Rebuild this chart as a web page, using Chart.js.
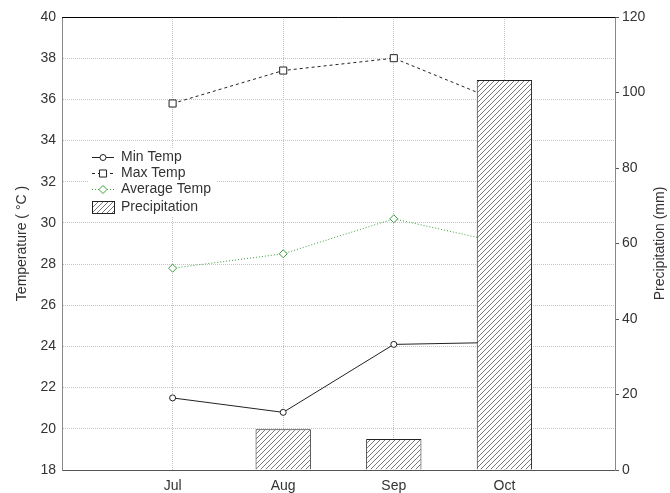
<!DOCTYPE html>
<html>
<head>
<meta charset="utf-8">
<script src="https://cdn.jsdelivr.net/npm/chart.js@4"></script>
<style>
  html, body { margin: 0; padding: 0; background: #fff; }
  #wrap { width: 670px; height: 493px; }
</style>
</head>
<body>
<div id="wrap"><canvas id="c" width="670" height="493"></canvas></div>
<script>
// Monthly climate data (blank slots pad the axis on both sides)
const months = ['', 'Jul', 'Aug', 'Sep', 'Oct', ''];
const minTemp = [null, 21.5, 20.8, 24.1, 24.2, null];
const maxTemp = [null, 35.8, 37.4, 38.0, 35.8, null];
const avgTemp = [null, 27.8, 28.5, 30.2, 29.0, null];
const precipitation = [null, 0, 10.8, 8.2, 103.3, null];

const seriesNames = ['Min Temp', 'Max Temp', 'Average Temp', 'Precipitation'];

const FONT = 'Arial, "Liberation Sans", sans-serif';
const TEXT = '#333';
const GREEN = '#3c9c3c';
const GRID = '#c4c4c4';

const canvas = document.getElementById('c');
const mainCtx = canvas.getContext('2d');

// white tile with "///" hatching for the precipitation bars
function makeHatch() {
  const t = document.createElement('canvas');
  t.width = 5; t.height = 5;
  const g = t.getContext('2d');
  g.fillStyle = '#fff';
  g.fillRect(0, 0, 5, 5);
  g.strokeStyle = '#555';
  g.lineWidth = 0.8;
  g.beginPath();
  g.moveTo(0, 5); g.lineTo(5, 0);
  g.moveTo(-1, 1); g.lineTo(1, -1);
  g.moveTo(4, 6); g.lineTo(6, 4);
  g.stroke();
  return mainCtx.createPattern(t, 'repeat');
}
const hatch = makeHatch();

// black frame line along the top of the plot and the right-hand title
const framePlugin = {
  id: 'frame',
  afterDraw(chart) {
    const { ctx, chartArea } = chart;
    ctx.save();
    ctx.strokeStyle = '#000';
    ctx.lineWidth = 1;
    ctx.beginPath();
    ctx.moveTo(chartArea.left, chartArea.top + 0.5);
    ctx.lineTo(chartArea.right + 0.5, chartArea.top + 0.5);
    ctx.stroke();

    ctx.fillStyle = TEXT;
    ctx.font = '14px ' + FONT;
    ctx.textAlign = 'center';
    ctx.textBaseline = 'middle';
    ctx.translate(660, (chartArea.top + chartArea.bottom) / 2);
    ctx.rotate(-Math.PI / 2);
    ctx.fillText('Precipitation (mm)', 0, 0);
    ctx.restore();
  }
};

// legend block inside the plot, line + marker samples
const legendPlugin = {
  id: 'innerLegend',
  afterDraw(chart) {
    const ctx = chart.ctx;
    const ds = chart.data.datasets;
    const x0 = 92, x1 = 114, xm = 103, xt = 121;
    const rows = [157, 173, 189, 207];
    ctx.save();
    ctx.fillStyle = '#fff';
    ctx.fillRect(88, 148, 128, 68);
    ctx.font = '14px ' + FONT;
    ctx.textBaseline = 'middle';
    ctx.textAlign = 'left';
    const lineSets = [ds[1], ds[2], ds[3]];
    lineSets.forEach((d, i) => {
      const y = rows[i] + 0.5;
      ctx.strokeStyle = d.borderColor;
      ctx.lineWidth = 1;
      ctx.setLineDash(d.borderDash || []);
      ctx.beginPath();
      ctx.moveTo(x0, y);
      ctx.lineTo(x1, y);
      ctx.stroke();
      ctx.setLineDash([]);
      ctx.fillStyle = d.pointBackgroundColor;
      ctx.strokeStyle = d.pointBorderColor;
      Chart.helpers.drawPoint(ctx, {
        pointStyle: d.pointStyle, radius: d.pointRadius,
        rotation: 0, borderWidth: 1
      }, xm, y);
      ctx.fillStyle = TEXT;
      ctx.fillText(d.label, xt, rows[i]);
    });
    // hatched box sample
    ctx.fillStyle = hatch;
    ctx.fillRect(92.5, 201.5, 22, 12);
    ctx.strokeStyle = '#222';
    ctx.strokeRect(92.5, 201.5, 22, 12);
    ctx.fillStyle = TEXT;
    ctx.fillText(ds[0].label, xt, rows[3]);
    ctx.restore();
  }
};

new Chart(canvas, {
  data: {
    labels: months,
    datasets: [
      {
        type: 'bar',
        label: seriesNames[3],
        data: precipitation,
        yAxisID: 'y2',
        backgroundColor: hatch,
        borderColor: '#222',
        borderWidth: 1,
        barPercentage: 0.5,
        categoryPercentage: 1,
        order: 0
      },
      {
        type: 'line',
        label: seriesNames[0],
        data: minTemp,
        yAxisID: 'y',
        borderColor: '#222',
        borderWidth: 1,
        pointStyle: 'circle',
        pointRadius: 3,
        pointBackgroundColor: '#fff',
        pointBorderColor: '#222',
        pointBorderWidth: 1,
        tension: 0,
        order: 1
      },
      {
        type: 'line',
        label: seriesNames[1],
        data: maxTemp,
        yAxisID: 'y',
        borderColor: '#222',
        borderWidth: 1,
        borderDash: [3, 3],
        pointStyle: 'rect',
        pointRadius: 5,
        pointBackgroundColor: '#fff',
        pointBorderColor: '#222',
        pointBorderWidth: 1,
        tension: 0,
        order: 1
      },
      {
        type: 'line',
        label: seriesNames[2],
        data: avgTemp,
        yAxisID: 'y',
        borderColor: GREEN,
        borderWidth: 1,
        borderDash: [1, 2],
        pointStyle: 'rectRot',
        pointRadius: 4,
        pointBackgroundColor: '#fff',
        pointBorderColor: GREEN,
        pointBorderWidth: 1,
        tension: 0,
        order: 1
      }
    ]
  },
  options: {
    responsive: false,
    animation: false,
    devicePixelRatio: 1,
    layout: { padding: { top: 17, left: 0, right: 0, bottom: 0 } },
    plugins: {
      legend: { display: false },
      title: { display: false },
      tooltip: { enabled: false }
    },
    scales: {
      x: {
        type: 'category',
        offset: false,
        grid: { color: GRID, drawTicks: false, offset: false },
        border: { color: '#555', dash: [1, 1] },
        ticks: {
          color: TEXT, font: { size: 14, family: FONT },
          padding: 8, maxRotation: 0, autoSkip: false
        },
        afterFit(s) { s.height = 23; }
      },
      y: {
        position: 'left',
        min: 18, max: 40,
        grid: { color: GRID, drawTicks: false },
        border: { color: '#888', dash: [1, 1] },
        ticks: {
          stepSize: 2, color: TEXT, padding: 6,
          font: { size: 14, family: FONT }
        },
        title: {
          display: true, text: 'Temperature ( °C )',
          color: TEXT, font: { size: 14, family: FONT },
          padding: { top: 14, bottom: 0 }
        },
        afterFit(s) { s.width = 62; }
      },
      y2: {
        position: 'right',
        min: 0, max: 120,
        grid: { drawOnChartArea: false, drawTicks: true, tickLength: 4, tickColor: '#555' },
        border: { color: '#888' },
        ticks: {
          stepSize: 20, color: TEXT, padding: 3,
          font: { size: 14, family: FONT }
        },
        afterFit(s) { s.width = 55; }
      }
    }
  },
  plugins: [framePlugin, legendPlugin]
});
</script>
</body>
</html>
